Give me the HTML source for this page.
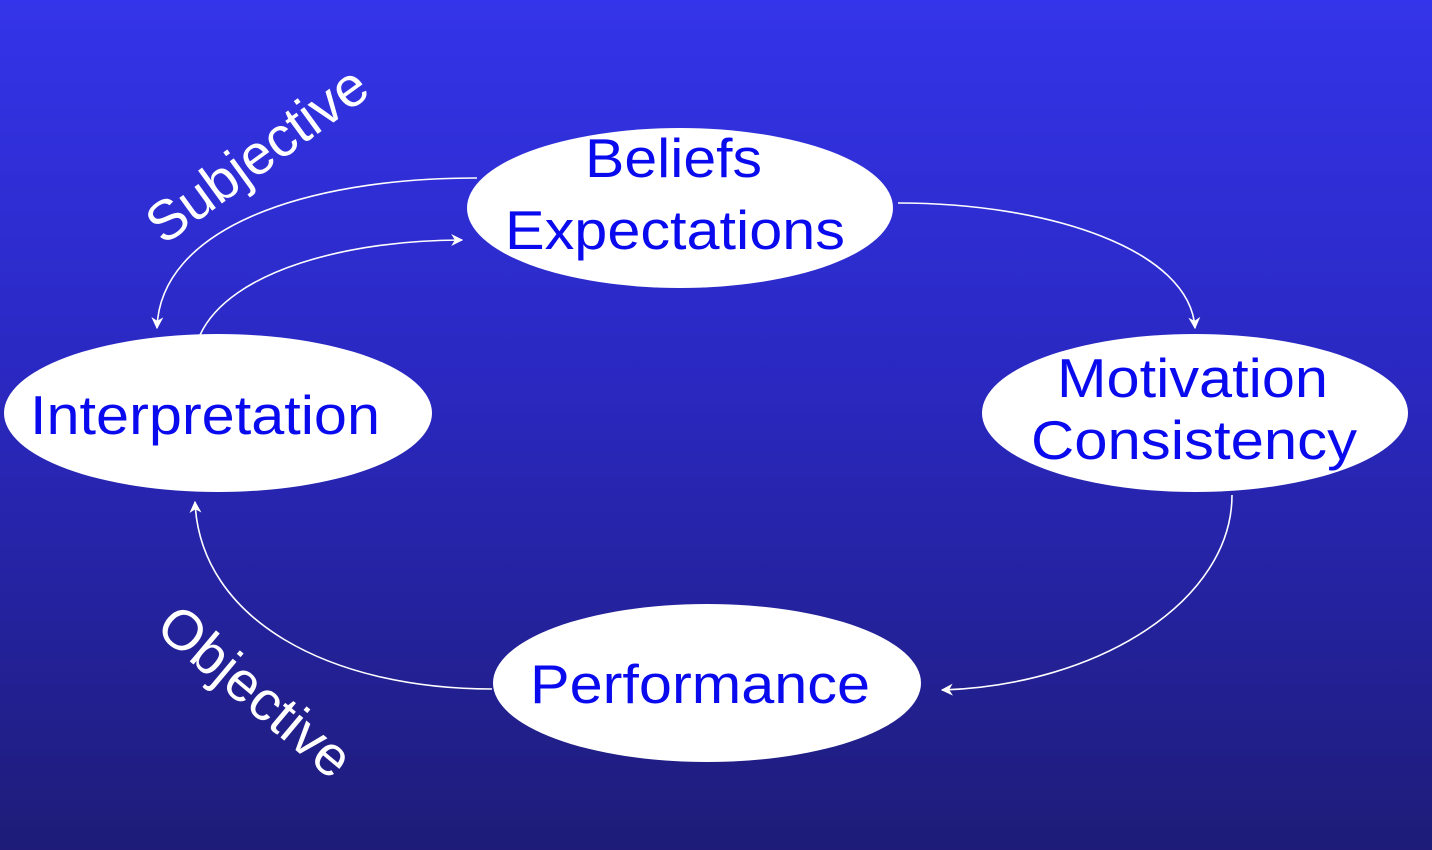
<!DOCTYPE html>
<html><head><meta charset="utf-8"><style>
html,body{margin:0;padding:0;width:1432px;height:850px;overflow:hidden}
body{background:linear-gradient(#3434ea,#2a28c0 45%,#1e1c78)}
svg{display:block}
text{font-family:"Liberation Sans",sans-serif}
</style></head><body>
<svg width="1432" height="850" viewBox="0 0 1432 850">
<defs>
<marker id="a" viewBox="0 0 10 10" refX="9" refY="5" markerWidth="12" markerHeight="12" markerUnits="userSpaceOnUse" orient="auto">
<path d="M0,0 L10,5 L0,10 L3,5 Z" fill="#fff"/>
</marker>
</defs>
<g fill="none" stroke="#fff" stroke-width="1.6">
<path d="M477,178 C300,178 160,230 157,328" marker-end="url(#a)"/>
<path d="M200,335 C230,270 350,240 462,240" marker-end="url(#a)"/>
<path d="M898,203 C1050,203 1190,250 1195,328" marker-end="url(#a)"/>
<path d="M1232,495 C1232,600 1100,685 942,690" marker-end="url(#a)"/>
<path d="M492,689 C330,689 200,620 195,502" marker-end="url(#a)"/>
</g>
<g fill="#fff">
<ellipse cx="680" cy="208" rx="213" ry="80"/>
<ellipse cx="1195" cy="413" rx="213" ry="79"/>
<ellipse cx="218" cy="413" rx="214" ry="79"/>
<ellipse cx="707" cy="683" rx="214" ry="79"/>
</g>
<g fill="#0a0aee" font-size="55" lengthAdjust="spacingAndGlyphs">
<text x="585" y="177" textLength="177" lengthAdjust="spacingAndGlyphs">Beliefs</text>
<text x="505" y="249" textLength="340" lengthAdjust="spacingAndGlyphs">Expectations</text>
<text x="1057" y="397" textLength="271" lengthAdjust="spacingAndGlyphs">Motivation</text>
<text x="1031" y="459" textLength="326" lengthAdjust="spacingAndGlyphs">Consistency</text>
<text x="30" y="434" textLength="350" lengthAdjust="spacingAndGlyphs">Interpretation</text>
<text x="530" y="703" textLength="340" lengthAdjust="spacingAndGlyphs">Performance</text>
</g>
<g fill="#fff" font-size="56" text-anchor="middle">
<text transform="translate(268,170) rotate(-36)">Subjective</text>
<text transform="translate(243,706) rotate(40)">Objective</text>
</g>
</svg>
</body></html>
